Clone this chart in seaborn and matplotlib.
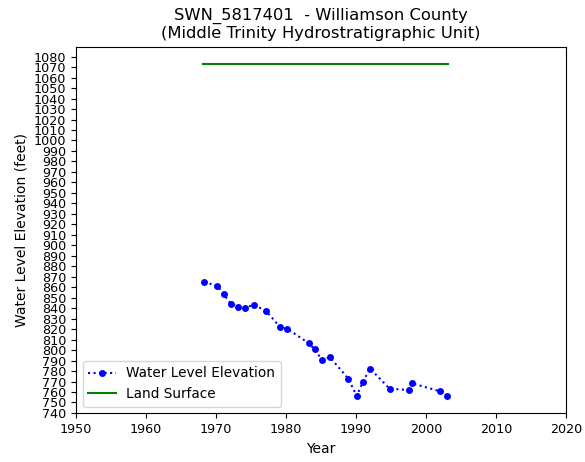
import matplotlib
matplotlib.use("Agg")
import matplotlib.pyplot as plt
import seaborn as sns
import pandas as pd

years = [1968.3, 1970.2, 1971.1, 1972.1, 1973.1, 1974.1, 1975.4, 1977.1,
         1979.1, 1980.2, 1983.3, 1984.1, 1985.1, 1986.3, 1988.9, 1990.1,
         1991.0, 1992.0, 1994.8, 1997.5, 1998.0, 2002.0, 2003.0]
levels = [864.7, 861.5, 853.3, 844.3, 841.4, 840.5, 843.1, 837.6,
          822.3, 820.2, 806.3, 800.6, 791.0, 793.0, 772.7, 756.2,
          769.9, 782.3, 763.2, 761.9, 768.3, 760.7, 755.9]
land_years = [1968.2, 2003.1]
land_surface = [1073.3, 1073.3]

title = "SWN_5817401  - Williamson County\n(Middle Trinity Hydrostratigraphic Unit)"
yticks = list(range(740, 1081, 10))
xticks = list(range(1950, 2021, 10))

fig = plt.figure(figsize=(5.85, 4.62), dpi=100)
ax = fig.add_axes([0.130, 0.105, 0.8375, 0.794])

wl = pd.DataFrame({"Year": years, "Elevation": levels})
ls = pd.DataFrame({"Year": land_years, "Elevation": land_surface})

sns.lineplot(data=wl, x="Year", y="Elevation", ax=ax, color="blue",
             linestyle=":", marker="o", markersize=5, markeredgewidth=0,
             linewidth=1.5, label="Water Level Elevation")
sns.lineplot(data=ls, x="Year", y="Elevation", ax=ax, color="green",
             linewidth=1.5, label="Land Surface")

ax.set_xlim(1950, 2020)
ax.set_ylim(739.5, 1089.5)
ax.set_xticks(xticks)
ax.set_yticks(yticks)
ax.tick_params(labelsize=9.2)
ax.set_xlabel("Year", fontsize=10)
ax.set_ylabel("Water Level Elevation (feet)", fontsize=10)
ax.set_title(title, fontsize=11.8)
ax.legend(loc="lower left", fontsize=9.8)

fig.savefig("out.png", dpi=100)
